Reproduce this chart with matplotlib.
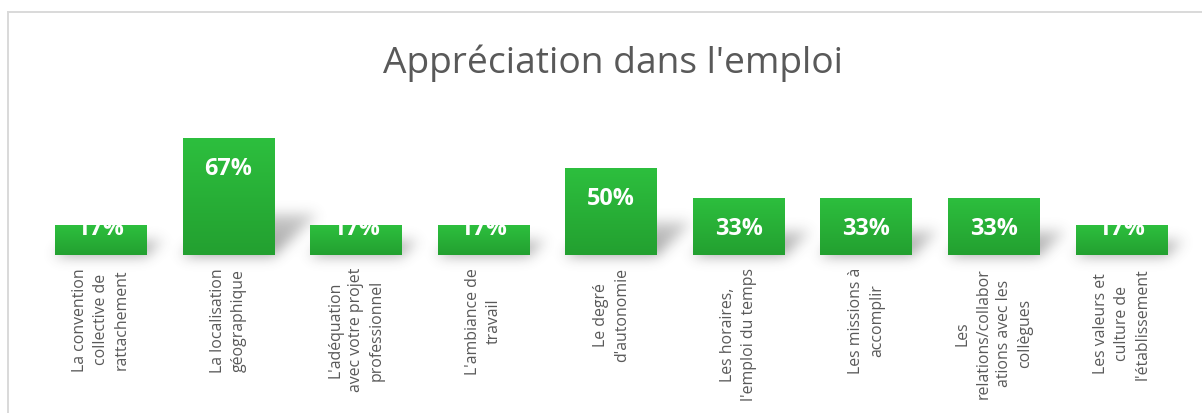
import numpy as np
import matplotlib
matplotlib.use("Agg")
import matplotlib.pyplot as plt
from matplotlib.colors import LinearSegmentedColormap

# ---------------------------------------------------------------------------
# Data
# ---------------------------------------------------------------------------
categories = [
    "La convention\ncollective de\nrattachement",
    "La localisation\ngéographique",
    "L'adéquation\navec votre projet\nprofessionnel",
    "L'ambiance de\ntravail",
    "Le degré\nd'autonomie",
    "Les horaires,\nl'emploi du temps",
    "Les missions à\naccomplir",
    "Les\nrelations/collabor\nations avec les\ncollègues",
    "Les valeurs et\nculture de\nl'établissement",
]
values = [17, 67, 17, 17, 50, 33, 33, 33, 17]
value_labels = [f"{v}%" for v in values]
title = "Appréciation dans l'emploi"

# ---------------------------------------------------------------------------
# Style
# ---------------------------------------------------------------------------
W, H, DPI = 1202, 414, 100
FONT = ["Open Sans", "DejaVu Sans"]
TEXT_GREY = "#595959"
BORDER = "#d9d9d9"
LABEL_FLOOR = 33          # short bars: data label stays at this level
plt.rcParams["font.family"] = FONT

fig = plt.figure(figsize=(W / DPI, H / DPI), dpi=DPI)
fig.patch.set_facecolor("white")

# background axes in pixel coords (border + shadows)
bg = fig.add_axes([0, 0, 1, 1], zorder=0)
bg.axis("off")

ax = fig.add_axes([37.2 / W, 158 / H, 1148.1 / W, 139.2 / H], zorder=1)
ax.patch.set_alpha(0)

x = np.arange(len(values))
bars = ax.bar(x, values, width=0.72, color="none", edgecolor="none")

# gradient fill for each bar
green = LinearSegmentedColormap.from_list("green", ["#23A030", "#2DBF3E"])
gradient = np.linspace(0, 1, 256).reshape(-1, 1)
for b in bars:
    x0, y0 = b.get_xy()
    im = ax.imshow(gradient, cmap=green, aspect="auto", origin="lower",
                   extent=[x0, x0 + b.get_width(), y0, y0 + b.get_height()],
                   zorder=2, interpolation="bilinear")
    im.set_clip_path(b)

ax.set_xlim(-0.5, len(values) - 0.5)
ax.set_ylim(0, 80)
for s in ax.spines.values():
    s.set_visible(False)
ax.set_yticks([])
ax.set_xticks(x)
ax.set_xticklabels(categories, rotation=90, ha="center", va="top",
                   multialignment="center", fontsize=11.4, color=TEXT_GREY,
                   linespacing=1.4)
ax.tick_params(axis="x", length=0, pad=8.6)

# data labels (inside end)
for i, (v, lbl) in enumerate(zip(values, value_labels)):
    ax.annotate(lbl, xy=(i, max(v, LABEL_FLOOR)), xytext=(0, -30),
                textcoords="offset pixels", ha="center", va="center",
                color="white", fontsize=16.8, fontweight="bold", zorder=3)

# soft perspective shadow, built in figure pixels
mask = np.zeros((H, W))
for b in bars:
    (px0, py0), (px1, py1) = ax.transData.transform(
        [(b.get_x(), 0), (b.get_x() + b.get_width(), b.get_height())])
    hpx = py1 - py0
    sh = 0.30 * hpx + 8
    shift = 0.30 * hpx + 10
    for t in range(int(sh)):
        row = int(round(H - (py0 + t)))
        off = shift * t / sh
        c0, c1 = int(px0 + off), int(px1 + off)
        if 0 <= row < H:
            mask[row, max(c0, 0):min(c1, W)] = 1 - 0.5 * t / sh

k = np.exp(-0.5 * (np.arange(-20, 21) / 6.5) ** 2)
k /= k.sum()
mask = np.apply_along_axis(lambda r: np.convolve(r, k, mode="same"), 1, mask)
mask = np.apply_along_axis(lambda c: np.convolve(c, k, mode="same"), 0, mask)
shadow = np.zeros((H, W, 4))
shadow[..., :3] = 0.3
shadow[..., 3] = np.clip(mask * 0.55, 0, 1)
bg.imshow(shadow, extent=[0, W, 0, H], origin="upper", aspect="auto",
          interpolation="bilinear", zorder=1)
bg.set_xlim(0, W)
bg.set_ylim(0, H)

# chart border (top and left visible)
bg.plot([7.5, W], [H - 12.5, H - 12.5], color=BORDER, lw=1.4, zorder=2)
bg.plot([7.5, 7.5], [H - 12.5, 0], color=BORDER, lw=1.4, zorder=2)

fig.text(613 / W, (H - 73) / H, title, ha="center", va="baseline",
         fontsize=26.7, color=TEXT_GREY)

fig.savefig("out.png", dpi=DPI, facecolor="white")
